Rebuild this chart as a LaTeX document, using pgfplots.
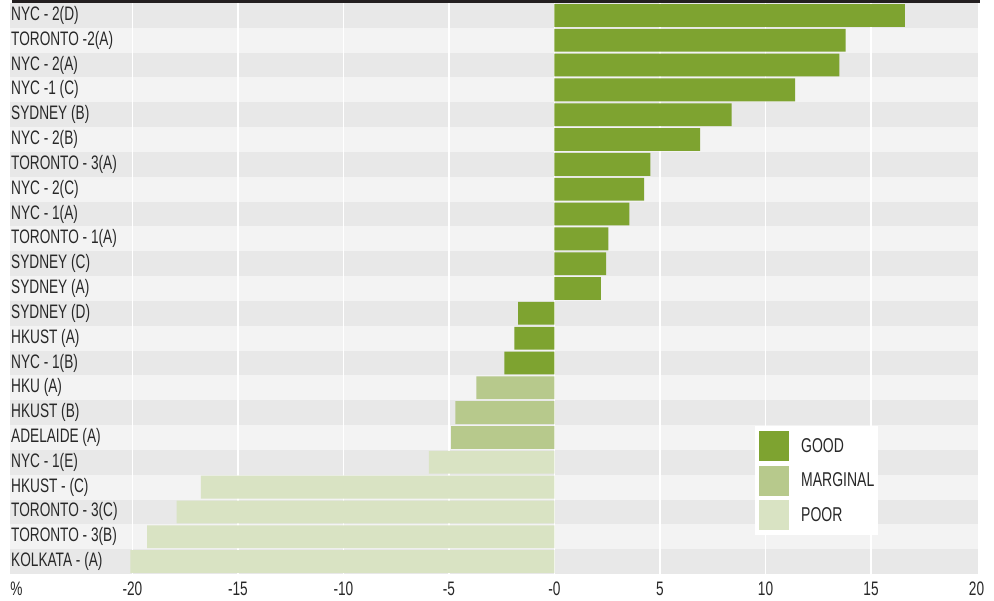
\documentclass[border=0pt]{standalone}
\usepackage{fontspec}
\setmainfont{Liberation Sans}[FakeStretch=0.7]
\usepackage{pgfplots}
\pgfplotsset{compat=1.18}
\definecolor{good}{RGB}{126,163,48}
\definecolor{marg}{RGB}{183,201,140}
\definecolor{poor}{RGB}{217,227,195}
\definecolor{stripeA}{RGB}{232,232,232}
\definecolor{stripeB}{RGB}{243,243,243}
\definecolor{topline}{RGB}{35,31,32}
\definecolor{txt}{RGB}{40,40,40}
\pgfplotsset{
  mybar/.style={xbar, bar shift=0pt, bar width=22.8pt, draw=none,
    legend image code/.code={\fill[##1] (0pt,-15pt) rectangle (30pt,15pt);}},
}
\begin{document}
\begin{tikzpicture}
\begin{axis}[
  scale only axis, width=968pt, height=571pt,
  xmin=-25.8, xmax=20.07, ymin=-0.5, ymax=22.5, y dir=reverse,
  clip=false, axis on top,
  axis line style={draw=none}, tick style={draw=none},
  axis background/.style={fill=stripeB},
  xtick={-25.5,-20,-15,-10,-5,0,5,10,15,20},
  xticklabels={\%,-20,-15,-10,-5,-0,5,10,15,20},
  ytick={0,...,22},
  yticklabels={NYC - 2(D),TORONTO -2(A),NYC - 2(A),NYC -1 (C),SYDNEY (B),NYC - 2(B),TORONTO - 3(A),NYC - 2(C),NYC - 1(A),TORONTO - 1(A),SYDNEY (C),SYDNEY (A),SYDNEY (D),HKUST (A),NYC - 1(B),HKU (A),HKUST (B),ADELAIDE (A),NYC - 1(E),HKUST - (C),TORONTO - 3(C),TORONTO - 3(B),KOLKATA - (A)},
  ticklabel style={font=\fontsize{19.5}{21}\selectfont, text=txt},
  yticklabel style={anchor=west, inner sep=0pt, xshift=1pt},
  xticklabel style={anchor=north, inner sep=0pt, yshift=-8pt},
  legend style={at={(0.7696,0.2592)}, anchor=north west, draw=none, fill=white,
    inner xsep=4pt, inner ysep=5pt, row sep=4.5pt,
    font=\fontsize{20}{22}\selectfont, text=txt,
    nodes={inner sep=0pt},
    /tikz/every odd column/.append style={column sep=12pt}},
  legend cell align=left,
]
\pgfplotsinvokeforeach{0,2,...,22}{
  \fill[stripeA] ([yshift=-12.413pt]axis cs:-25.8,#1) rectangle ([yshift=12.413pt]axis cs:20.07,#1);
}
\pgfplotsinvokeforeach{-20,-15,...,15}{
  \draw[white, line width=1.5pt] (axis cs:#1,-0.5) -- (axis cs:#1,22.5);
}
\draw[topline, line width=2.5pt] ([yshift=1.75pt]axis cs:-25.7,-0.5) -- ([yshift=1.75pt]axis cs:20.16,-0.5);
\coordinate (sw) at (axis cs:-25.8,22.5);
\coordinate (ne) at (axis cs:20.07,-0.5);

\addplot[mybar, fill=good] coordinates {
 (16.6,0) (13.8,1) (13.5,2) (11.4,3) (8.4,4) (6.9,5) (4.55,6) (4.25,7)
 (3.55,8) (2.55,9) (2.45,10) (2.2,11) (-1.72,12) (-1.9,13) (-2.37,14)};
\addlegendentry{GOOD}
\addplot[mybar, fill=marg] coordinates {
 (-3.7,15) (-4.7,16) (-4.9,17)};
\addlegendentry{MARGINAL}
\addplot[mybar, fill=poor] coordinates {
 (-5.95,18) (-16.75,19) (-17.9,20) (-19.3,21) (-20.1,22)};
\addlegendentry{POOR}
\end{axis}
\pgfresetboundingbox
\path ([xshift=-10pt,yshift=-26pt]sw) rectangle ([xshift=16pt,yshift=3pt]ne);
\end{tikzpicture}
\end{document}
